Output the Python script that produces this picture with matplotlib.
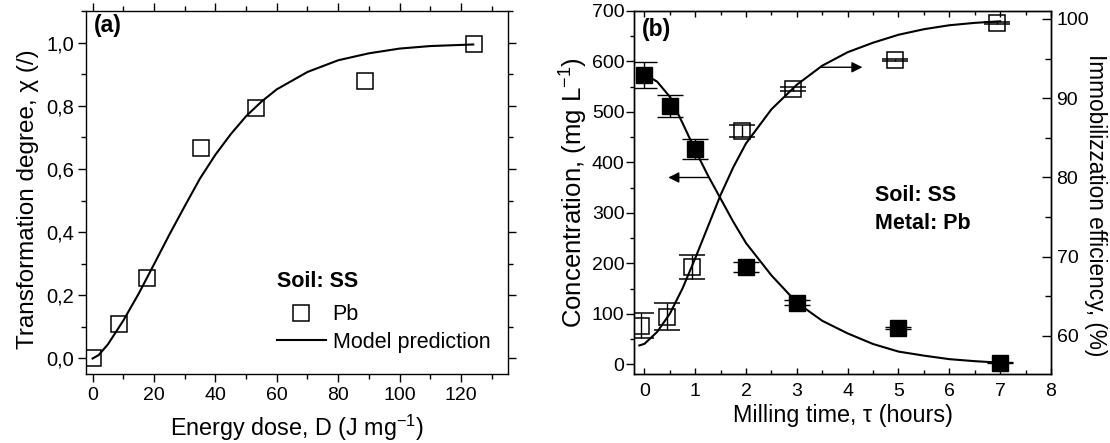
import matplotlib
matplotlib.use('Agg')
import matplotlib.pyplot as plt
from matplotlib.ticker import MultipleLocator

plt.rcParams['font.family'] = ['Liberation Sans', 'DejaVu Sans']
plt.rcParams['mathtext.fontset'] = 'custom'
plt.rcParams['mathtext.rm'] = 'Liberation Sans'
plt.rcParams['mathtext.it'] = 'Liberation Sans:italic'
plt.rcParams['mathtext.bf'] = 'Liberation Sans:bold'
plt.rcParams['mathtext.default'] = 'regular'

# ---------------- Panel (a) data ----------------
dose = [0.0, 8.7, 17.6, 35.3, 53.1, 88.7, 124.3]
chi = [0.0, 0.108, 0.256, 0.665, 0.792, 0.879, 0.996]
model_dose = [0, 2, 5, 10, 15, 20, 25, 30, 35, 40, 45, 50, 55, 60, 70, 80, 90, 100, 110, 124]
model_chi = [0.0, 0.011, 0.045, 0.12, 0.205, 0.298, 0.392, 0.482, 0.57, 0.645,
             0.71, 0.767, 0.813, 0.852, 0.907, 0.944, 0.966, 0.981, 0.989, 0.994]
a_yticks = [0.0, 0.2, 0.4, 0.6, 0.8, 1.0]
a_yticklabels = ['0,0', '0,2', '0,4', '0,6', '0,8', '1,0']

# ---------------- Panel (b) data ----------------
time_conc = [0, 0.5, 1, 2, 3, 5, 7]
conc = [573, 512, 427, 192, 122, 72, 3]
conc_err = [25, 22, 20, 10, 5, 1.5, 1.5]

time_eff = [-0.06, 0.44, 0.94, 1.93, 2.92, 4.94, 6.94]
eff = [61.3, 62.4, 68.7, 85.9, 91.1, 94.8, 99.5]
eff_err = [1.6, 1.7, 1.5, 0.74, 0.25, 0.1, 0.1]

model_time_conc = [0, 0.25, 0.5, 0.75, 1.0, 1.25, 1.5, 1.75, 2.0, 2.5, 3.0, 3.5,
                   4.0, 4.5, 5.0, 5.5, 6.0, 6.5, 7.0]
model_conc = [575, 560, 530, 478, 424, 374, 328, 282, 240, 176, 122, 86,
              61, 40, 25, 17, 10, 6, 3]
model_time_eff = [-0.1, 0.0, 0.25, 0.5, 0.75, 1.0, 1.25, 1.5, 1.75, 2.0, 2.5, 3.0,
                  3.5, 4.0, 4.5, 5.0, 5.5, 6.0, 6.5, 7.0]
model_eff = [58.8, 59.0, 60.5, 62.8, 66.0, 69.8, 73.8, 77.8, 81.3, 84.3, 88.6, 91.7,
             94.1, 95.8, 97.0, 98.0, 98.7, 99.2, 99.5, 99.7]

TICK_FS = 14
XLABEL_FS = 16.8
TEXT_FS = 15.5

fig = plt.figure(figsize=(11.1, 4.43), dpi=100)
axA = fig.add_axes([0.0772, 0.1551, 0.3807, 0.8201])
axB = fig.add_axes([0.5714, 0.1551, 0.3754, 0.8201])
axB2 = axB.twinx()

for ax in (axA, axB, axB2):
    for s in ax.spines.values():
        s.set_linewidth(1.0)

# ---------------- Panel (a) ----------------
axA.plot(dose, chi, 's', ms=11.5, mfc='none', mec='k', mew=1.1, label='Pb', zorder=3)
axA.plot(model_dose, model_chi, '-', color='k', lw=1.5, label='Model prediction', zorder=2)
axA.set_xlim(-2.25, 135.4)
axA.set_ylim(-0.05, 1.10)
axA.xaxis.set_major_locator(MultipleLocator(20))
axA.xaxis.set_minor_locator(MultipleLocator(10))
axA.set_yticks(a_yticks)
axA.set_yticklabels(a_yticklabels)
axA.yaxis.set_minor_locator(MultipleLocator(0.1))
axA.tick_params(which='both', direction='out', top=True, right=True,
                labelsize=TICK_FS, width=1.0)
axA.tick_params(which='major', length=5.5)
axA.tick_params(which='minor', length=3.5)
axA.tick_params(axis='y', pad=3, labelsize=14.5)
axA.tick_params(axis='x', pad=4)
axA.set_xlabel('Energy dose, D (J mg$^{-1}$)', fontsize=XLABEL_FS, labelpad=6)
axA.set_ylabel('Transformation degree, χ (/)', fontsize=17.5, labelpad=5)
axA.yaxis.label.set_y(0.483)
axA.text(0.020, 0.959, '(a)', transform=axA.transAxes, fontsize=16.5,
         fontweight='bold', ha='left', va='center')
leg = axA.legend(loc='upper left', bbox_to_anchor=(0.452, 0.285), frameon=False,
                 fontsize=TEXT_FS, handlelength=2.3, handletextpad=0.3,
                 borderpad=0, borderaxespad=0, labelspacing=0.3,
                 title='Soil: SS', alignment='left',
                 title_fontproperties={'weight': 'bold', 'size': TEXT_FS})
leg._legend_box.sep = 9

# ---------------- Panel (b) ----------------
axB.errorbar(time_conc, conc, yerr=conc_err, fmt='s', ms=11.5, mfc='k', mec='k',
             ecolor='k', elinewidth=1.0, capsize=9.5, capthick=1.0, zorder=3)
axB.plot(model_time_conc, model_conc, '-', color='k', lw=1.5, zorder=2)
axB.set_xlim(-0.2, 8.0)
axB.set_ylim(-20, 700)
axB.xaxis.set_major_locator(MultipleLocator(1))
axB.xaxis.set_minor_locator(MultipleLocator(0.5))
axB.yaxis.set_major_locator(MultipleLocator(100))
axB.yaxis.set_minor_locator(MultipleLocator(50))
axB.tick_params(axis='x', which='both', direction='in', top=True,
                labelsize=TICK_FS, width=1.0, pad=6)
axB.tick_params(axis='x', which='major', length=4.5)
axB.tick_params(axis='x', which='minor', length=2.7)
axB.tick_params(axis='y', which='both', direction='out', labelsize=TICK_FS,
                width=1.0, pad=1.5)
axB.tick_params(axis='y', which='major', length=5.5)
axB.tick_params(axis='y', which='minor', length=3)
axB.set_xlabel('Milling time, τ (hours)', fontsize=XLABEL_FS, labelpad=3)
axB.set_ylabel('Concentration, (mg L$^{-1}$)', fontsize=18.5, labelpad=1)

axB2.errorbar(time_eff, eff, yerr=eff_err, fmt='s', ms=11.5, mfc='none', mec='k',
              mew=1.1, ecolor='k', elinewidth=1.0, capsize=9.5, capthick=1.0, zorder=3)
axB2.plot(model_time_eff, model_eff, '-', color='k', lw=1.5, zorder=2)
axB2.set_ylim(55.16, 101.0)
axB2.yaxis.set_major_locator(MultipleLocator(10))
axB2.yaxis.set_minor_locator(MultipleLocator(5))
axB2.tick_params(axis='y', which='both', direction='in', labelsize=TICK_FS,
                 width=1.0, pad=4)
axB2.tick_params(axis='y', which='major', length=6.5)
axB2.tick_params(axis='y', which='minor', length=4.3)
axB2.set_ylabel('Immobilizzation efficiency, (%)', fontsize=16.3,
                rotation=270, va='bottom', labelpad=-3.5)
axB2.yaxis.label.set_y(0.466)

# direction arrows and annotation text
axB.annotate('', xy=(0.47, 370), xytext=(1.25, 370),
             arrowprops=dict(arrowstyle='-|>', color='k', lw=1.0,
                             mutation_scale=16, shrinkA=0, shrinkB=0))
axB2.annotate('', xy=(4.29, 93.9), xytext=(3.47, 93.9),
              arrowprops=dict(arrowstyle='-|>', color='k', lw=1.0,
                              mutation_scale=16, shrinkA=0, shrinkB=0))
axB.text(4.53, 334, 'Soil: SS', fontsize=TEXT_FS, fontweight='bold',
         ha='left', va='center')
axB.text(4.53, 278, 'Metal: Pb', fontsize=TEXT_FS, fontweight='bold',
         ha='left', va='center')
axB.text(0.018, 0.948, '(b)', transform=axB.transAxes, fontsize=16.5,
         fontweight='bold', ha='left', va='center')

fig.savefig('out.png', dpi=100)
